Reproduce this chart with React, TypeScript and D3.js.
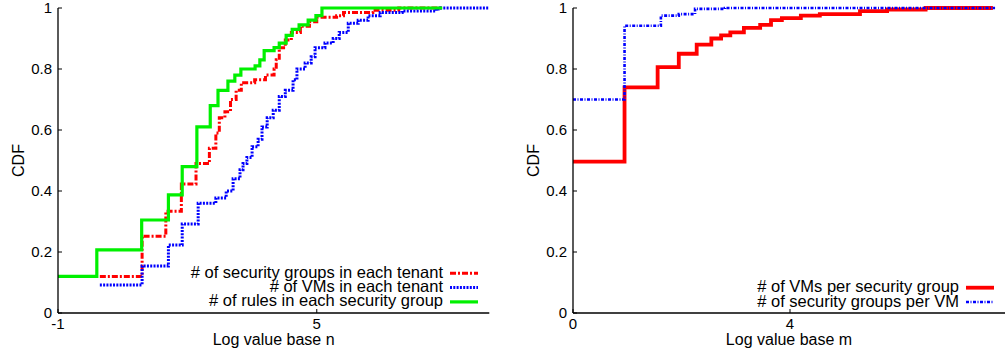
import * as d3 from 'd3';

// ---- data (x in log units, y = CDF) ----
const ticksY = [0, 0.2, 0.4, 0.6, 0.8, 1];
const leftTicksX = [-1, 5];
const rightTicksX = [0, 4];

// left panel
const sgPerTenantX = [-0.03, 0.95, 1.5, 1.86, 2.2, 2.51, 2.66, 2.74, 2.87, 3.0, 3.13, 3.25, 3.56, 3.81, 4.01, 4.06, 4.13, 4.27, 4.41, 4.62, 4.83, 5.0, 5.46, 5.62, 6.3, 6.9, 7.91];
const sgPerTenantY = [0.12, 0.252, 0.334, 0.423, 0.49, 0.54, 0.59, 0.64, 0.66, 0.7, 0.73, 0.755, 0.765, 0.78, 0.8, 0.83, 0.87, 0.895, 0.92, 0.94, 0.955, 0.97, 0.975, 0.985, 0.993, 1, 1];

const vmPerTenantX = [-0.03, 0.95, 1.56, 1.88, 2.25, 2.66, 2.9, 3.06, 3.22, 3.29, 3.38, 3.5, 3.64, 3.73, 3.85, 3.99, 4.13, 4.27, 4.45, 4.54, 4.73, 4.87, 4.96, 5.19, 5.38, 5.52, 5.73, 5.96, 6.19, 6.47, 6.98, 7.77, 7.86, 9.0];
const vmPerTenantY = [0.092, 0.154, 0.223, 0.292, 0.36, 0.377, 0.4, 0.44, 0.47, 0.49, 0.51, 0.545, 0.57, 0.61, 0.64, 0.665, 0.71, 0.73, 0.765, 0.8, 0.82, 0.84, 0.87, 0.885, 0.9, 0.92, 0.95, 0.96, 0.975, 0.985, 0.99, 0.997, 1, 1];

const rulesPerSgX = [-1, -0.1, 0.94, 1.56, 1.88, 2.22, 2.53, 2.71, 2.94, 3.1, 3.24, 3.57, 3.68, 3.78, 4.01, 4.13, 4.29, 4.43, 4.59, 4.8, 4.98, 5.12, 7.91];
const rulesPerSgY = [0.12, 0.207, 0.305, 0.387, 0.48, 0.61, 0.68, 0.73, 0.76, 0.78, 0.8, 0.81, 0.83, 0.86, 0.87, 0.885, 0.91, 0.93, 0.945, 0.96, 0.975, 1, 1];

// right panel
const vmPerSgX = [0, 0.95, 1.56, 1.95, 2.28, 2.55, 2.73, 2.9, 3.15, 3.45, 3.65, 3.85, 4.2, 4.55, 5.29, 5.79, 6.5, 7.74];
const vmPerSgY = [0.496, 0.74, 0.806, 0.85, 0.88, 0.9, 0.91, 0.92, 0.935, 0.945, 0.96, 0.967, 0.975, 0.98, 0.99, 0.995, 1, 1];

const sgPerVmX = [0, 0.95, 1.62, 1.95, 2.25, 2.8, 7.78];
const sgPerVmY = [0.7, 0.942, 0.975, 0.98, 0.997, 1, 1];

const leftLabels = ['# of security groups in each tenant', '# of VMs in each tenant', '# of rules in each security group'];
const rightLabels = ['# of VMs per security group', '# of security groups per VM'];

const FONT = '"Liberation Sans", Arial, Helvetica, sans-serif';

type Series = { xs: number[]; ys: number[]; label: string; color: string; width: number; dash?: string };

const y = d3.scaleLinear().domain([0, 1]).range([313, 8]);

function Panel({ x, xTicks, series, xLabel, legendRight, legendTop, cdfX }: {
  x: d3.ScaleLinear<number, number>; xTicks: number[]; series: Series[]; xLabel: string;
  legendRight: number; legendTop: number; cdfX: number;
}) {
  const [x0, x1] = x.range();
  const axisX = x0;
  const line = d3.line<[number, number]>()
    .x(d => x(d[0]))
    .y(d => y(d[1]))
    .curve(d3.curveStepAfter);
  const xMid = (x0 + Math.min(x1, 1005)) / 2;
  return (
    <g fontFamily={FONT} fill="#000">
      {series.map((s, i) => (
        <path key={i} d={line(s.xs.map((v, j) => [v, s.ys[j]] as [number, number])) ?? ''}
          fill="none" stroke={s.color} strokeWidth={s.width} strokeDasharray={s.dash}
          strokeLinejoin="miter" />
      ))}
      {/* axes */}
      <line x1={axisX} x2={axisX} y1={y(1)} y2={y(0)} stroke="#000" strokeWidth={1.3} />
      <line x1={axisX} x2={Math.min(x1, 1005)} y1={y(0)} y2={y(0)} stroke="#000" strokeWidth={1.3} />
      {ticksY.map(t => (
        <g key={t}>
          <line x1={axisX} x2={axisX + 4} y1={y(t)} y2={y(t)} stroke="#000" />
          <text x={axisX - 6} y={y(t)} dy="0.35em" textAnchor="end" fontSize={15}>{d3.format('')(t)}</text>
        </g>
      ))}
      {xTicks.map(t => (
        <g key={t}>
          <line x1={x(t)} x2={x(t)} y1={y(0)} y2={y(0) - 4} stroke="#000" />
          <text x={x(t)} y={328.5} textAnchor="middle" fontSize={15}>{t}</text>
        </g>
      ))}
      <text x={xMid} y={344.5} textAnchor="middle" fontSize={16}>{xLabel}</text>
      <text transform={`translate(${cdfX},${(y(0) + y(1)) / 2}) rotate(-90)`} textAnchor="middle" fontSize={16}>CDF</text>
      {/* legend */}
      {series.map((s, i) => {
        const ly = legendTop + i * 14.3;
        return (
          <g key={'l' + i}>
            <text x={legendRight} y={ly + 4.5} textAnchor="end" fontSize={16.5}>{s.label}</text>
            <line x1={legendRight + 7} x2={legendRight + 35} y1={ly} y2={ly}
              stroke={s.color} strokeWidth={s.width} strokeDasharray={s.dash} />
          </g>
        );
      })}
    </g>
  );
}

export default function App() {
  const xLeft = d3.scaleLinear().domain([-1, 9]).range([58, 489.3]);
  const xRight = d3.scaleLinear().domain([0, 8]).range([573, 1007]);

  const leftSeries: Series[] = [
    { xs: sgPerTenantX, ys: sgPerTenantY, label: leftLabels[0], color: '#ff0000', width: 3, dash: '6,2,2,2' },
    { xs: vmPerTenantX, ys: vmPerTenantY, label: leftLabels[1], color: '#0000ff', width: 3, dash: '2,1.3' },
    { xs: rulesPerSgX, ys: rulesPerSgY, label: leftLabels[2], color: '#00f000', width: 3.2 },
  ];
  const rightSeries: Series[] = [
    { xs: vmPerSgX, ys: vmPerSgY, label: rightLabels[0], color: '#ff0000', width: 3.8 },
    { xs: sgPerVmX, ys: sgPerVmY, label: rightLabels[1], color: '#0000ff', width: 2.6, dash: '3,1.5,1,1.5' },
  ];

  return (
    <svg width={1005} height={351} style={{ position: 'absolute', left: 0, top: 0, background: '#fff' }}>
      <rect width={1005} height={351} fill="#fff" />
      <Panel x={xLeft} xTicks={leftTicksX} series={leftSeries} xLabel="Log value base n"
        legendRight={443} legendTop={273.3} cdfX={23.5} />
      <Panel x={xRight} xTicks={rightTicksX} series={rightSeries} xLabel="Log value base m"
        legendRight={959} legendTop={287.7} cdfX={539} />
    </svg>
  );
}
